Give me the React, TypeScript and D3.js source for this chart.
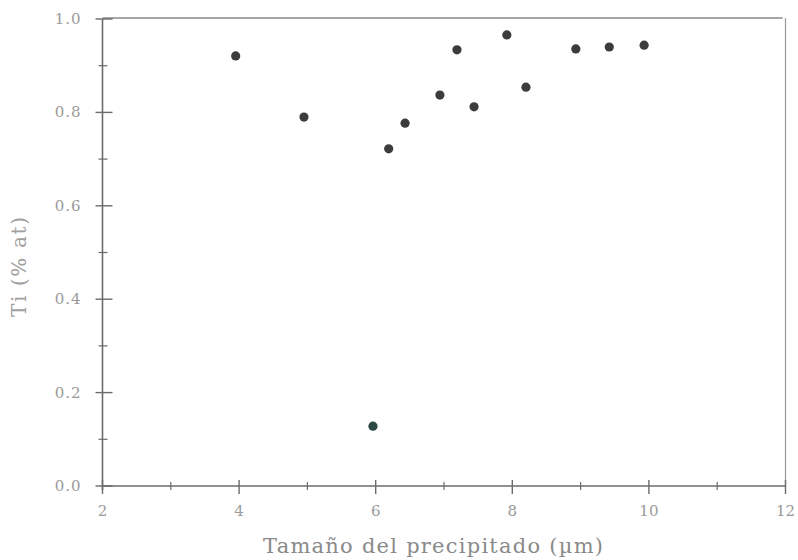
import React from "react";
import * as d3 from "d3";

const sizes = [3.95, 4.95, 5.96, 6.19, 6.43, 6.94, 7.19, 7.44, 7.92, 8.2, 8.93, 9.42, 9.93];
const tiValues = [0.921, 0.79, 0.128, 0.722, 0.777, 0.837, 0.934, 0.812, 0.966, 0.854, 0.936, 0.94, 0.944];
const xTicks = [2, 4, 6, 8, 10, 12];
const xMinor = [3, 5, 7, 9, 11];
const yTicks = [0, 0.2, 0.4, 0.6, 0.8, 1.0];
const yMinor = [0.1, 0.3, 0.5, 0.7, 0.9];

const W = 798;
const H = 560;

export default function App() {
  const x = d3.scaleLinear().domain([2, 12]).range([102.5, 785.5]);
  const y = d3.scaleLinear().domain([0, 1]).range([486, 19]);
  const axisColor = "#6b6b6b";
  const textColor = "#9a9a9a";
  const font = "'DejaVu Serif', 'Liberation Serif', serif";
  return (
    <svg width={W} height={H} style={{ position: "absolute", left: 0, top: 0, background: "#fff" }}>
      {/* frame */}
      <line x1={x(2)} x2={x(12)} y1={y(0)} y2={y(0)} stroke={axisColor} strokeWidth={1.6} />
      <line x1={x(2)} x2={x(2)} y1={y(0) + 4} y2={y(1)} stroke={axisColor} strokeWidth={1.6} />
      <line x1={x(2)} x2={x(12) - 3} y1={y(1) - 1} y2={y(1) - 1} stroke="#8a8a8a" strokeWidth={1.6} />
      <line x1={x(12)} x2={x(12)} y1={y(1) - 1} y2={y(0)} stroke="#9a9a9a" strokeWidth={1.2} />
      {/* x ticks */}
      {xTicks.map((t) => (
        <g key={"xt" + t}>
          <line x1={x(t)} x2={x(t)} y1={y(0) - 6} y2={y(0) + 8} stroke={axisColor} strokeWidth={1.4} />
          <text x={x(t)} y={y(0) + 30} textAnchor="middle" fontFamily={font} fontSize={15} fill={textColor}>
            {t}
          </text>
        </g>
      ))}
      {xMinor.map((t) => (
        <line key={"xm" + t} x1={x(t)} x2={x(t)} y1={y(0) - 4} y2={y(0) + 4} stroke={axisColor} strokeWidth={1.2} />
      ))}
      {/* y ticks */}
      {yTicks.map((t) => (
        <g key={"yt" + t}>
          <line x1={x(2) - 7} x2={x(2) + 10} y1={y(t)} y2={y(t)} stroke={axisColor} strokeWidth={1.4} />
          <text x={x(2) - 21} y={y(t) + 5} textAnchor="end" fontFamily={font} fontSize={15} fill={textColor} letterSpacing={1}>
            {t.toFixed(1)}
          </text>
        </g>
      ))}
      {yMinor.map((t) => (
        <line key={"ym" + t} x1={x(2) - 4} x2={x(2) + 5} y1={y(t)} y2={y(t)} stroke={axisColor} strokeWidth={1.2} />
      ))}
      {/* points */}
      {sizes.map((s, i) => (
        <circle key={"p" + i} cx={x(s)} cy={y(tiValues[i])} r={4.6} fill={tiValues[i] < 0.3 ? "#2c4a42" : "#3c3c3c"} />
      ))}
      {/* labels */}
      <text x={263} y={553} fontFamily={font} fontSize={21} fill="#8a8a8a" textLength={340} lengthAdjust="spacing">
        Tamaño del precipitado (µm)
      </text>
      <text
        transform={`translate(26, 317) rotate(-90)`}
        fontFamily={font}
        fontSize={20}
        fill="#a0a0a0"
        textLength={100}
        lengthAdjust="spacing"
      >
        Ti (% at)
      </text>
    </svg>
  );
}
